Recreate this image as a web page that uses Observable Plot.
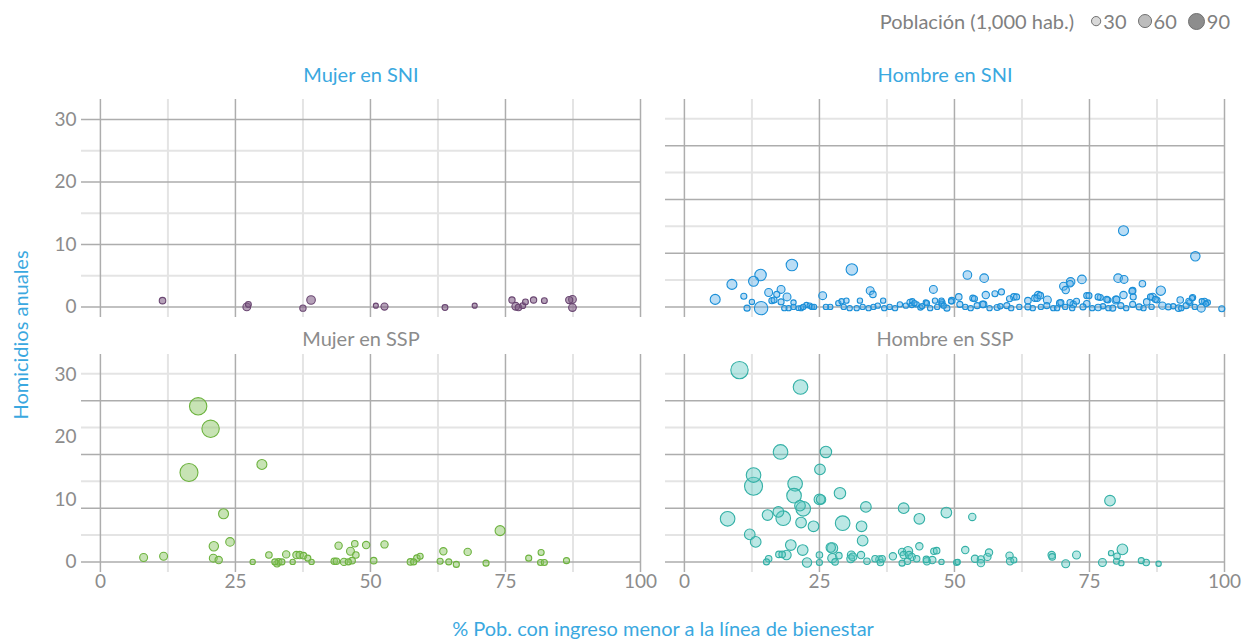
<!DOCTYPE html>
<html><head><meta charset="utf-8">
<script src="https://cdn.jsdelivr.net/npm/d3@7"></script>
<script src="https://cdn.jsdelivr.net/npm/@observablehq/plot@0.6"></script>
<style>
html,body{margin:0;padding:0;background:#fff;}
#wrap{position:relative;width:1248px;height:640px;font-family:Lato,"Open Sans",sans-serif;overflow:hidden;background:#fff}
#legend{position:absolute;top:0;left:0;width:1230px;height:42px;display:flex;justify-content:flex-end;align-items:center;font-size:20px;color:#808080;}
#legend .it{display:flex;align-items:center;margin-left:10px}
#legend svg{margin-right:1px}
#chart{position:absolute;top:42px;left:0;}
.ttl{position:absolute;color:#3aa8e0;font-size:20px;white-space:nowrap}
#xt{left:663px;top:628px;transform:translate(-50%,-50%);}
#yt{left:20px;top:335px;transform:translate(-50%,-50%) rotate(-90deg);}
</style></head><body>
<div id="wrap"><div id="legend"></div><div id="chart"></div>
<div class="ttl" id="xt">% Pob. con ingreso menor a la línea de bienestar</div>
<div class="ttl" id="yt">Homicidios anuales</div></div>
<script>
// ---- data: [x = % población bajo línea de bienestar, y = homicidios anuales, población (1,000 hab.)]
const mujerSNI = [[11.5,1.0,15],[27.1,0,21],[27.4,0.4,12],[37.5,-0.2,14],[39.0,1.1,26],[51.0,0.2,9],[52.6,0.05,18],[63.8,-0.1,12],[69.3,0.2,9],[76.2,1.1,14],[76.9,0.1,21],[77.4,-0.1,15],[78.2,0.2,12],[78.7,0.8,12],[80.2,1.1,14],[82.2,1.0,12],[86.8,1.1,18],[87.4,1.2,21],[87.4,-0.1,21]];
const hombreSNI = [[5.7,1.2,35],[8.8,3.6,35],[11.0,1.7,13],[11.6,-0.2,13],[12.5,0.8,10],[12.8,4.1,35],[14.1,5.1,46],[14.2,-0.2,63],[15.6,2.3,22],[16.2,1.0,13],[16.6,1.1,13],[17.1,2.0,13],[17.9,2.8,22],[17.9,0.8,13],[19.0,1.6,22],[19.9,6.7,46],[19.3,-0.2,10],[20.2,0.7,10],[20.2,0,10],[21.1,-0.2,8],[21.6,-0.2,10],[22.6,0.3,10],[23.2,0.2,10],[23.6,0,10],[24.0,0,10],[25.6,1.8,22],[27.0,0,10],[28.5,0.6,10],[29.1,0.9,10],[29.5,0,10],[30.0,1.0,10],[30.6,-0.2,10],[31.0,6.0,46],[31.9,-0.2,10],[32.5,1.0,10],[34.1,-0.2,10],[34.4,2.6,22],[34.9,2.0,15],[35.0,0,10],[35.8,0.2,10],[36.8,1.0,10],[38.0,0,10],[39.0,-0.2,10],[39.9,0.4,10],[41.8,0.7,15],[42.1,0.3,10],[42.2,0.9,10],[43.0,0.4,10],[43.7,-0.1,10],[44.7,0.7,10],[44.9,0.6,10],[46.1,2.8,22],[46.4,1.0,10],[47.6,0.5,10],[47.6,1.0,10],[49.4,0.9,10],
[50.8,1.6,15],[52.4,5.1,26],[55.5,4.6,26],[81.3,12.2,35],[94.6,8.1,31],[70.2,3.3,22],[70.6,2.7,19],[71.5,4.0,26],[71.4,3.7,15],[73.6,4.4,26],[80.3,4.6,26],[81.4,4.4,22],[84.8,3.7,15],[88.2,2.6,31],[83.0,2.6,15],[81.3,1.9,19],[57.5,2.1,13],[58.7,2.4,13],[55.8,1.9,19],[53.4,1.4,13],[61.0,1.6,15],[65.5,1.9,19],[64.9,1.4,15],[63.6,1.0,15],[67.2,1.1,22],[74.5,1.8,13],[77.0,1.5,13],[78.4,1.1,13],[79.9,1.1,22],[86.7,1.6,19],[87.5,1.1,13],[85.6,0.8,15],[91.8,1.1,15],[94.1,1.5,13],[93.6,0.7,13],[96.3,0.9,13],[96.9,0.7,10],[95.7,-0.2,22],[99.5,-0.3,13],[88.5,0.2,19],[91.5,-0.2,15],[76.6,-0.1,15],[74.5,0.5,15],[72.0,0.4,15],[69.5,0.6,15],[63.6,0,13],[59.7,0.2,13],[57.9,-0.1,13],[55.4,0.4,15],[54.2,0.2,13],[51.0,0.4,13],[48.6,-0.2,13],[47.7,0.7,13],[49.5,1.0,15],[67.1,0.2,13],[68.3,-0.2,10],[73.8,0,13],[79.3,-0.2,13],[80.8,0.2,13],[83.0,0.4,13],[84.2,0,13],[89.6,0,13],[92.9,0.2,13],
[53.7,1.3,13],[55.2,0.4,15],[60.2,1.3,13],[61.5,1.6,13],[65.3,1.4,15],[65.9,1.8,15],[69.7,0.7,13],[71.4,0.7,13],[72.6,0.9,13],[74.9,1.8,13],[76.6,1.6,13],[78.2,1.2,13],[80.0,1.2,15],[82.9,2.5,15],[83.1,1.6,13],[86.3,1.6,13],[87.2,1.2,13],[93.4,0.9,13],[94.0,1.4,10],[95.8,0.9,10],[96.6,0.5,10],
[52,0,10],[53,-0.2,10],[56.5,-0.2,10],[58.5,0.1,10],[60.5,-0.2,10],[62,0,10],[64.5,-0.2,10],[66,0,10],[69,-0.2,10],[70.5,0,10],[71.8,-0.2,10],[75.5,-0.2,10],[77.5,0.1,10],[78.5,-0.2,10],[81.8,-0.2,10],[85,-0.2,10],[86.5,0,10],[90.5,0.1,10],[92,-0.2,10],[94.5,0,10],[41,0.2,10],[42.6,0.6,10],[44,0.1,10],[45.5,-0.2,10],[46.8,0,10],[48,0.2,10],[37,-0.2,10],[33,0,10],[26.2,0,10],[18.5,-0.2,10],[22,0,10]];
const mujerSSP = [[18.1,24.9,106],[20.4,21.3,106],[16.4,14.3,114],[29.9,15.6,35],[22.8,7.7,35],[24.0,3.2,26],[21.0,2.5,31],[20.9,0.6,22],[21.9,0.3,19],[8.0,0.7,22],[11.7,0.9,22],[28.2,0,10],[31.2,1.1,15],[32.3,0,13],[32.7,-0.3,15],[33.0,0,15],[33.6,0,13],[34.4,1.2,19],[35.6,0,10],[36.3,1.1,19],[36.9,1.1,19],[37.6,1.0,15],[38.4,0.6,13],[39.1,0,10],[43.3,0.1,15],[43.7,0.1,15],[44.1,2.6,19],[45.1,0,19],[45.9,0,13],[46.3,1.7,22],[46.6,0.2,15],[47.1,2.9,15],[47.3,1.1,15],[49.2,2.7,19],[50.6,0.2,15],[52.6,2.8,19],[57.4,0,15],[58.0,0,13],[58.6,0.6,15],[59.2,0.9,13],[62.9,0.1,13],[63.5,1.7,19],[64.5,0,13],[65.9,-0.4,13],[68.0,1.6,19],[71.4,-0.2,13],[74.0,5.0,35],[79.3,0.6,13],[81.6,1.5,13],[81.5,-0.1,13],[82.2,-0.1,13],[86.3,0.2,13]];
const hombreSSP = [[10.2,30.7,106],[21.5,28.0,75],[17.8,17.6,75],[26.2,17.6,46],[25.1,14.8,40],[12.8,13.9,75],[12.8,12.1,114],[20.5,12.5,75],[20.3,10.6,75],[28.8,11.0,46],[25.0,10.0,40],[25.3,10.0,31],[21.4,9.0,40],[22.0,8.5,75],[33.6,8.8,40],[40.6,8.6,40],[48.5,7.9,40],[43.5,6.9,40],[8.0,6.9,75],[15.4,7.5,40],[17.4,8.0,40],[18.3,7.0,75],[21.6,6.3,40],[23.9,5.7,40],[29.3,6.2,75],[32.8,5.7,40],[33.0,3.4,40],[12.1,4.4,40],[13.2,3.2,40],[19.7,2.7,40],[21.9,1.9,40],[27.4,2.2,40],[27.1,2.3,31],[27.4,0.6,31],[18.9,1.1,31],[17.5,1.2,15],[18.1,1.2,15],[15.6,0.5,15],[15.2,0,13],[22.7,-0.1,31],[25.0,1.1,15],[25.0,-0.1,13],[27.9,0,15],[28.6,1.0,15],[30.9,1.1,22],[30.8,0.5,22],[31.2,0.8,22],[32.7,1.1,19],[33.8,0.1,15],[35.3,0.5,15],[36.1,0.4,19],[36.3,-0.1,15],[36.6,0.5,15],[38.6,0.9,19],[40.3,1.6,19],[40.3,-0.2,13],[40.6,1.1,19],[41.4,1.7,31],[41.6,1.1,19],[41.3,0.1,15],[42.1,0.8,19],[43.0,0.5,15],[43.5,2.5,19],[44.8,0.4,15],[44.9,0.1,19],[45.9,0.3,19],[46.2,1.7,15],[46.7,1.8,15],[47.6,0,10],[50.4,-0.1,13],
[53.3,7.2,19],[78.8,9.8,40],[50.6,0,10],[52.0,1.9,19],[53.8,0.5,19],[54.9,0.4,19],[54.9,-0.2,19],[56.1,0.8,19],[56.4,1.5,19],[60.2,1.0,19],[60.3,0.1,19],[61.0,0.3,13],[68.0,1.1,19],[68.1,0.8,15],[70.6,-0.3,22],[72.6,1.1,22],[77.4,-0.1,22],[79.0,1.4,10],[80.1,0.9,15],[80.0,0.1,13],[81.1,2.0,40],[80.9,-0.2,10],[84.6,0.2,13],[85.5,-0.1,15],[87.8,-0.3,10]];

const xTicks = [0, 25, 50, 75, 100];
const yTicks = [0, 10, 20, 30];
const xGridMinor = [12.5, 37.5, 62.5, 87.5];
const gridMujerSNI = [0, 5, 10, 15, 20, 25, 30];
const gridOthers = [0, 4.3, 8.6, 12.9, 17.2, 21.5, 25.8, 30.1];
const legendSizes = [30, 60, 90];

const panels = [
  {sex:"Mujer", sys:"SNI", label:"Mujer en SNI", rows:mujerSNI, grid:gridMujerSNI, fill:"#7a5580", stroke:"#6a4772", fo:0.55},
  {sex:"Hombre", sys:"SNI", label:"Hombre en SNI", rows:hombreSNI, grid:gridOthers, fill:"#5aaee6", stroke:"#1a8fd8", fo:0.42},
  {sex:"Mujer", sys:"SSP", label:"Mujer en SSP", rows:mujerSSP, grid:gridOthers, fill:"#90c86a", stroke:"#6db33f", fo:0.5},
  {sex:"Hombre", sys:"SSP", label:"Hombre en SSP", rows:hombreSSP, grid:gridOthers, fill:"#5cc9c0", stroke:"#33b0a6", fo:0.42}
];

const gridRows = panels.flatMap(p => p.grid.map((v, i) => ({sex:p.sex, sys:p.sys, v, major: p.grid === gridMujerSNI ? v % 10 === 0 : i % 2 === 0})));

const dotMarks = panels.map(p => Plot.dot(
  p.rows.map(([x, y, pop]) => ({sex:p.sex, sys:p.sys, x, y, pop})).sort((a, b) => b.pop - a.pop),
  {x:"x", y:"y", r:"pop", fx:"sex", fy:"sys", fill:p.fill, fillOpacity:p.fo, stroke:p.stroke, strokeWidth:1.1}
));

const chart = Plot.plot({
  width:1248, height:598,
  marginLeft:80, marginRight:23, marginTop:56, marginBottom:68,
  style:{fontFamily:"Lato, 'Open Sans', sans-serif", fontSize:"19px", color:"#8c8c8c", background:"#fff"},
  fx:{domain:["Mujer","Hombre"], paddingInner:0.0427, paddingOuter:0, axis:null},
  fy:{domain:["SNI","SSP"], paddingInner:0.147, paddingOuter:0, axis:null},
  x:{domain:[-3.5, 100]},
  y:{domain:[-1.7, 33.2]},
  r:{type:"sqrt", domain:[0, 90], range:[0, 8], clamp:false},
  marks:[
    Plot.ruleX(xGridMinor, {stroke:"#e4e4e4", strokeWidth:2}),
    Plot.ruleY(gridRows.filter(d => !d.major), {y:"v", fx:"sex", fy:"sys", stroke:"#e4e4e4", strokeWidth:2}),
    Plot.ruleX(xTicks, {stroke:"#adadad", strokeWidth:1.5}),
    Plot.ruleY(gridRows.filter(d => d.major), {y:"v", fx:"sex", fy:"sys", stroke:"#adadad", strokeWidth:1.5}),
    ...dotMarks,
    Plot.axisX(xTicks, {tickSize:0, tickPadding:2, label:null, color:"#8c8c8c", fontSize:19}),
    Plot.axisY(yTicks, {tickSize:0, tickPadding:5, label:null, color:"#8c8c8c", fontSize:19}),
    Plot.text(panels.filter(p => p.sys === "SNI"), {fx:"sex", fy:"sys", text:"label", frameAnchor:"top", lineAnchor:"middle", dy:-24, fill:"#3aa8e0", fontSize:20}),
    Plot.text(panels.filter(p => p.sys === "SSP"), {fx:"sex", fy:"sys", text:"label", frameAnchor:"top", lineAnchor:"middle", dy:-15, fill:"#8c8c8c", fontSize:20})
  ]
});
document.getElementById("chart").appendChild(chart);

// size legend using the chart's own r scale
const rScale = chart.scale("r");
const legend = document.getElementById("legend");
const lt = document.createElement("span");
lt.textContent = "Población (1,000 hab.)";
lt.style.marginRight = "6px";
legend.appendChild(lt);
const legendFills = {30:"#d9d9d9", 60:"#bdbdbd", 90:"#8d8d8d"};
legendSizes.forEach(v => {
  const r = rScale.apply(v);
  const it = document.createElement("span");
  it.className = "it";
  const s = d3.create("svg").attr("width", 2*r + 3).attr("height", 2*r + 3);
  s.append("circle").attr("cx", r + 1.5).attr("cy", r + 1.5).attr("r", r)
    .attr("fill", legendFills[v]).attr("stroke", "#707070").attr("stroke-width", 1);
  it.appendChild(s.node());
  const t = document.createElement("span");
  t.textContent = v;
  it.appendChild(t);
  legend.appendChild(it);
});
</script>
</body></html>
